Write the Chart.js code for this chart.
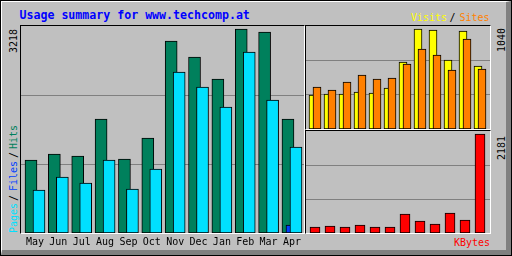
<!DOCTYPE html>
<html>
<head>
<meta charset="utf-8">
<script src="https://cdn.jsdelivr.net/npm/chart.js@4/dist/chart.umd.min.js"></script>
<style>
  body { margin: 0; background: #fff; }
  #frame {
    position: relative; width: 512px; height: 256px; overflow: hidden;
    background: #c0c0c0; font-family: 'DejaVu Sans Mono', monospace;
  }
  .outer { position: absolute; left: 0; top: 0; width: 512px; height: 256px; box-sizing: border-box; border: 1px solid #000; }
  .inner {
    position: absolute; left: 1px; top: 1px; width: 510px; height: 254px; box-sizing: border-box;
    border-top: 1px solid #fff; border-left: 1px solid #fff;
    border-right: 5px solid #808080; border-bottom: 5px solid #808080;
  }
  .panel {
    position: absolute; box-sizing: border-box;
    border-top: 1px solid #000; border-left: 1px solid #000;
    border-right: 1px solid #fff; border-bottom: 1px solid #fff;
  }
  canvas { position: absolute; }
  .txt { position: absolute; white-space: nowrap; font-size: 10px; line-height: 10px; }
  .rot { position: absolute; white-space: nowrap; font-size: 10px; line-height: 10px;
         transform-origin: 0 0; transform: rotate(-90deg); }
  #title { position: absolute; left: 19.5px; top: 10px; font-size: 11.6px; line-height: 11.6px;
           font-weight: bold; color: #0000ff; white-space: nowrap; }
</style>
</head>
<body>
<div id="frame">
  <div class="outer"></div>
  <div class="inner"></div>

  <div class="panel" style="left:20px; top:25px; width:285px; height:209px;"></div>
  <div class="panel" style="left:305px; top:25px; width:186px; height:105px;"></div>
  <div class="panel" style="left:305px; top:130px; width:186px; height:104px;"></div>

  <canvas id="main" width="283" height="224" style="left:21px; top:26px;"></canvas>
  <canvas id="visits" width="184" height="103" style="left:306px; top:26px;"></canvas>
  <canvas id="kbytes" width="184" height="102" style="left:306px; top:131px;"></canvas>

  <div id="title">Usage summary for www.techcomp.at</div>
  <span class="txt" style="left:411px; top:12.5px; color:#ffff00;">Visits</span>
  <span class="txt" style="left:449.5px; top:12.5px; color:#000;">/</span>
  <span class="txt" style="left:459.5px; top:12.5px; color:#ff8000;">Sites</span>
  <span class="txt" style="left:454px; top:237.5px; color:#ff0000;">KBytes</span>

  <span class="rot" id="maxHits" style="left:8.8px; top:53px; color:#000;"></span>
  <span class="rot" style="left:8.8px; top:233px; color:#00e0ff;">Pages</span>
  <span class="rot" style="left:8.8px; top:201px; color:#000;">/</span>
  <span class="rot" style="left:8.8px; top:191px; color:#0040ff;">Files</span>
  <span class="rot" style="left:8.8px; top:158px; color:#000;">/</span>
  <span class="rot" style="left:8.8px; top:149px; color:#00805c;">Hits</span>
  <span class="rot" id="maxVisits" style="left:497px; top:52px; color:#000;"></span>
  <span class="rot" id="maxKbytes" style="left:497px; top:160px; color:#000;"></span>
</div>

<script>
  // Monthly figures (webalizer usage summary)
  const months = ['May', 'Jun', 'Jul', 'Aug', 'Sep', 'Oct', 'Nov', 'Dec', 'Jan', 'Feb', 'Mar', 'Apr'];
  const hits = [1152, 1246, 1215, 1798, 1167, 1499, 3029, 2776, 2429, 3218, 3171, 1798];
  const files = [0, 0, 0, 0, 0, 0, 0, 0, 0, 0, 0, 126];
  const pages = [678, 883, 789, 1152, 694, 1010, 2540, 2303, 1988, 2855, 2098, 1357];
  const visits = [354, 364, 364, 385, 374, 426, 697, 1040, 1030, 718, 1019, 655];
  const sites = [437, 406, 489, 562, 520, 530, 676, 832, 770, 614, 936, 624];
  const kbytes = [132, 154, 132, 176, 132, 132, 419, 264, 198, 441, 286, 2181];

  const maxOf = arr => Math.max.apply(null, arr);

  document.getElementById('maxHits').textContent = maxOf(hits);
  document.getElementById('maxVisits').textContent = maxOf(visits);
  document.getElementById('maxKbytes').textContent = maxOf(kbytes);

  // x position per month, nudged sideways so the bars overlap like the original
  const pts = (values, shift) => values.map((v, i) => ({ x: i + shift, y: v }));

  const bars = (values, shift, color, width, order) => ({
    data: pts(values, shift),
    backgroundColor: color,
    borderColor: '#000',
    borderWidth: 1,
    borderSkipped: false,
    barThickness: width,
    grouped: false,
    order: order
  });

  function barChart(id, datasets, xMin, xMax, yMax, showLabels) {
    return new Chart(document.getElementById(id), {
      type: 'bar',
      data: { datasets: datasets },
      options: {
        responsive: false,
        animation: false,
        devicePixelRatio: 1,
        layout: { padding: 0, autoPadding: false },
        plugins: { legend: { display: false }, tooltip: { enabled: false } },
        scales: {
          x: {
            type: 'linear',
            min: xMin,
            max: xMax,
            offset: false,
            grid: { display: false, drawTicks: false },
            border: { display: false },
            ticks: {
              display: showLabels,
              autoSkip: false,
              maxRotation: 0,
              padding: 3,
              color: '#000',
              font: { family: 'DejaVu Sans Mono', size: 10 },
              callback: (v, i) => months[i]
            },
            afterBuildTicks: s => { s.ticks = months.map((m, i) => ({ value: i })); },
            afterFit: s => { s.height = showLabels ? 17 : 0; }
          },
          y: {
            min: 0,
            max: yMax,
            grid: { color: '#808080', lineWidth: 1, drawTicks: false },
            border: { display: false },
            ticks: { display: false },
            afterBuildTicks: s => { s.ticks = [{ value: yMax / 3 }, { value: yMax * 2 / 3 }]; },
            afterFit: s => { s.width = 0; }
          }
        }
      }
    });
  }

  // main panel: 23.36 px per month, bars 12 px wide, 4 px apart
  const stepMain = 23.364;
  barChart('main', [
    bars(pages, 4 / stepMain, '#00e0ff', 12, 0),
    bars(files, 0, '#0040ff', 12, 1),
    bars(hits, -4 / stepMain, '#00805c', 12, 2)
  ], -14 / stepMain, (283 - 14) / stepMain, maxOf(hits) * 207 / 204, true);

  // right panels: 15 px per month
  const stepSide = 15;
  barChart('visits', [
    bars(sites, 2 / stepSide, '#ff8000', 8, 0),
    bars(visits, -2 / stepSide, '#ffff00', 8, 1)
  ], -9 / stepSide, (184 - 9) / stepSide, maxOf(visits) * 103 / 100, false);

  barChart('kbytes', [
    bars(kbytes, 0, '#ff0000', 10, 0)
  ], -9 / stepSide, (184 - 9) / stepSide, maxOf(kbytes) * 102 / 99, false);
</script>
</body>
</html>
